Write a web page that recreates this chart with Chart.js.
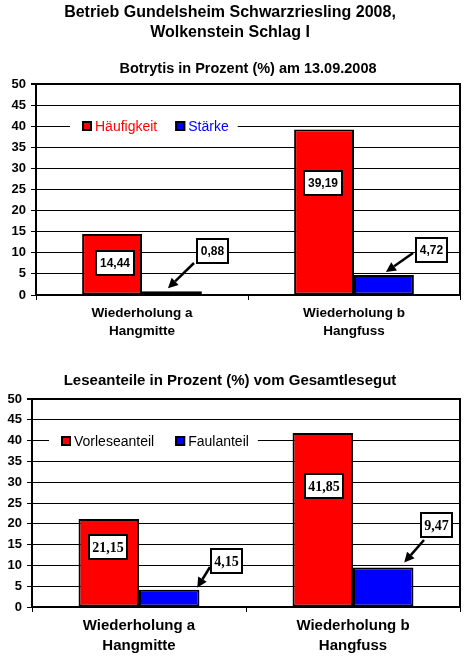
<!DOCTYPE html>
<html>
<head>
<meta charset="utf-8">
<script src="https://cdn.jsdelivr.net/npm/chart.js@4.4.1/dist/chart.umd.min.js"></script>
<style>
  body { margin: 0; background: #fff; }
  canvas { display: block; }
</style>
</head>
<body>
<canvas id="botrytis" width="465" height="350"></canvas>
<canvas id="lese" width="465" height="316"></canvas>
<script>
// Daten
const categories = [['Wiederholung a', 'Hangmitte'], ['Wiederholung b', 'Hangfuss']];
const haeufigkeit = [14.44, 39.19];
const staerke = [0.88, 4.72];
const vorleseanteil = [21.15, 41.85];
const faulanteil = [4.15, 9.47];
const yMin = 0, yMax = 50, yStep = 5;

const ARIAL = "'Liberation Sans', Arial, sans-serif";
const TIMES = "'Liberation Serif', 'Times New Roman', serif";
const RED = '#ff0000', BLUE = '#0000ff';

Chart.defaults.font.family = ARIAL;
Chart.defaults.color = '#000';
Chart.defaults.animation = false;

// Rahmen rechts, Legende im Diagramm und Datenbeschriftungen
const annotate = {
  id: 'annotate',
  afterDatasetsDraw(chart, args, opts) {
    const ctx = chart.ctx;
    const area = chart.chartArea;
    const y = chart.scales.y;
    ctx.save();
    ctx.strokeStyle = '#000';
    ctx.lineWidth = 2;
    ctx.beginPath();
    ctx.moveTo(area.right, area.top - 1);
    ctx.lineTo(area.right, area.bottom);
    ctx.stroke();

    // Legende
    const lg = opts.legend;
    ctx.font = lg.font;
    const ly = Math.round(y.getPixelForValue(lg.value));
    let x = area.left + lg.offset;
    let total = 12;
    lg.items.forEach((it, k) => {
      total += 13 + ctx.measureText(it.text).width + (k < lg.items.length - 1 ? lg.gap : 9);
    });
    ctx.fillStyle = '#fff';
    ctx.fillRect(x, ly - 8, total, 16);
    x += 12;
    ctx.textBaseline = 'middle';
    ctx.textAlign = 'left';
    lg.items.forEach((it, k) => {
      ctx.fillStyle = it.fill;
      ctx.fillRect(x, ly - 5, 10, 10);
      ctx.lineWidth = 2;
      ctx.strokeStyle = '#000';
      ctx.strokeRect(x + 1, ly - 4, 8, 8);
      ctx.fillStyle = it.color;
      ctx.fillText(it.text, x + 13, ly + 1);
      x += 13 + ctx.measureText(it.text).width + lg.gap;
    });

    // Datenbeschriftungen
    opts.labels.forEach(l => {
      const bar = chart.getDatasetMeta(l.ds).data[l.i];
      const value = chart.data.datasets[l.ds].data[l.i];
      const text = value.toFixed(2).replace('.', ',');
      ctx.font = opts.labelFont;
      const w = Math.round(ctx.measureText(text).width + 2 * opts.labelPad);
      const h = opts.labelH;
      let bx, by;
      if (l.frac !== undefined) {
        bx = Math.round(bar.x + (l.dx || 0) - w / 2);
        by = Math.round(y.getPixelForValue(value * l.frac) - h / 2);
      } else {
        bx = Math.round(bar.x + l.dx);
        by = Math.round(bar.y + l.dy);
      }
      if (l.tip) {
        const x1 = bx + l.from[0], y1 = by + l.from[1];
        const x2 = bar.x + l.tip[0], y2 = bar.y + l.tip[1];
        const a = Math.atan2(y2 - y1, x2 - x1);
        const hl = 10, hw = 5;
        const bxA = x2 - hl * Math.cos(a), byA = y2 - hl * Math.sin(a);
        ctx.strokeStyle = '#000';
        ctx.lineWidth = 2.5;
        ctx.beginPath();
        ctx.moveTo(x1, y1);
        ctx.lineTo(bxA, byA);
        ctx.stroke();
        ctx.fillStyle = '#000';
        ctx.beginPath();
        ctx.moveTo(x2, y2);
        ctx.lineTo(bxA + hw * Math.sin(a), byA - hw * Math.cos(a));
        ctx.lineTo(bxA - hw * Math.sin(a), byA + hw * Math.cos(a));
        ctx.closePath();
        ctx.fill();
      }
      ctx.fillStyle = '#fff';
      ctx.fillRect(bx, by, w, h);
      ctx.lineWidth = 2;
      ctx.strokeStyle = '#000';
      ctx.strokeRect(bx + 1, by + 1, w - 2, h - 2);
      ctx.fillStyle = '#000';
      ctx.textAlign = 'center';
      ctx.textBaseline = 'middle';
      ctx.fillText(text, bx + w / 2, by + h / 2 + 1);
    });
    ctx.restore();
  }
};

function makeChart(id, o) {
  return new Chart(document.getElementById(id), {
    type: 'bar',
    plugins: [annotate],
    data: {
      labels: categories,
      datasets: [
        { label: o.names[0], data: o.series[0], backgroundColor: RED },
        { label: o.names[1], data: o.series[1], backgroundColor: BLUE }
      ].map(d => Object.assign(d, {
        borderColor: '#000', borderWidth: 2, borderSkipped: false,
        categoryPercentage: 0.565, barPercentage: 1
      }))
    },
    options: {
      responsive: false,
      layout: { padding: { left: 0, right: 5, top: 0, bottom: 0 } },
      plugins: Object.assign({
        legend: { display: false },
        tooltip: { enabled: false },
        annotate: o.annotate
      }, o.titles),
      scales: {
        x: {
          afterFit: s => { s.height = o.xHeight; },
          grid: { offset: true, drawOnChartArea: false, color: '#000', tickLength: 5 },
          border: { color: '#000', width: 2 },
          ticks: { font: { size: o.catSize, weight: 'bold', lineHeight: o.catLine }, padding: 4, color: '#000' }
        },
        y: {
          min: yMin, max: yMax,
          afterFit: s => { s.width = o.yWidth; },
          grid: {
            color: '#000', tickLength: 5,
            lineWidth: c => (c.tick && c.tick.value === yMax ? 2 : 1)
          },
          border: { color: '#000', width: 2 },
          ticks: { stepSize: yStep, font: { size: 13, weight: 'bold' }, padding: 5, color: '#000' }
        }
      }
    }
  });
}

makeChart('botrytis', {
  names: ['Häufigkeit', 'Stärke'],
  series: [haeufigkeit, staerke],
  xHeight: 55, yWidth: 36, catSize: 13.5, catLine: 1.35,
  titles: {
    title: {
      display: true,
      text: ['Betrieb Gundelsheim Schwarzriesling 2008,', 'Wolkenstein Schlag I'],
      font: { size: 16, weight: 'bold', lineHeight: 1.25 },
      padding: { top: 3, bottom: 17.3 }, color: '#000'
    },
    subtitle: {
      display: true, fullSize: false,
      text: 'Botrytis in Prozent (%) am 13.09.2008',
      font: { size: 14.5, weight: 'bold', lineHeight: 1.2 },
      padding: { top: 0, bottom: 6.3 }, color: '#000'
    }
  },
  annotate: {
    legend: {
      value: 40, offset: 34, gap: 18, font: '14px ' + ARIAL,
      items: [
        { text: 'Häufigkeit', fill: RED, color: RED },
        { text: 'Stärke', fill: BLUE, color: BLUE }
      ]
    },
    labelFont: 'bold 12px ' + ARIAL, labelPad: 5, labelH: 26,
    labels: [
      { ds: 0, i: 0, frac: 0.53, dx: 3 },
      { ds: 0, i: 1, frac: 0.68, dx: -1 },
      { ds: 1, i: 0, dx: 24, dy: -53, from: [-2, 25], tip: [-4, -3] },
      { ds: 1, i: 1, dx: 31, dy: -38, from: [-2, 16], tip: [2, -3] }
    ]
  }
});

makeChart('lese', {
  names: ['Vorleseanteil', 'Faulanteil'],
  series: [vorleseanteil, faulanteil],
  xHeight: 59, yWidth: 32, catSize: 15, catLine: 1.33,
  titles: {
    title: {
      display: true,
      text: 'Leseanteile in Prozent (%) vom Gesamtlesegut',
      font: { size: 15, weight: 'bold', lineHeight: 1.2 },
      padding: { top: 22, bottom: 9 }, color: '#000'
    }
  },
  annotate: {
    legend: {
      value: 40, offset: 17, gap: 21, font: '14px ' + ARIAL,
      items: [
        { text: 'Vorleseanteil', fill: RED, color: '#000' },
        { text: 'Faulanteil', fill: BLUE, color: '#000' }
      ]
    },
    labelFont: 'bold 14px ' + TIMES, labelPad: 4, labelH: 26,
    labels: [
      { ds: 0, i: 0, frac: 0.68, dx: -1 },
      { ds: 0, i: 1, frac: 0.695, dx: 1 },
      { ds: 1, i: 0, dx: 41, dy: -42, from: [0, 19], tip: [28, -2] },
      { ds: 1, i: 1, dx: 37, dy: -56, from: [4, 28], tip: [21, -5] }
    ]
  }
});
</script>
</body>
</html>
